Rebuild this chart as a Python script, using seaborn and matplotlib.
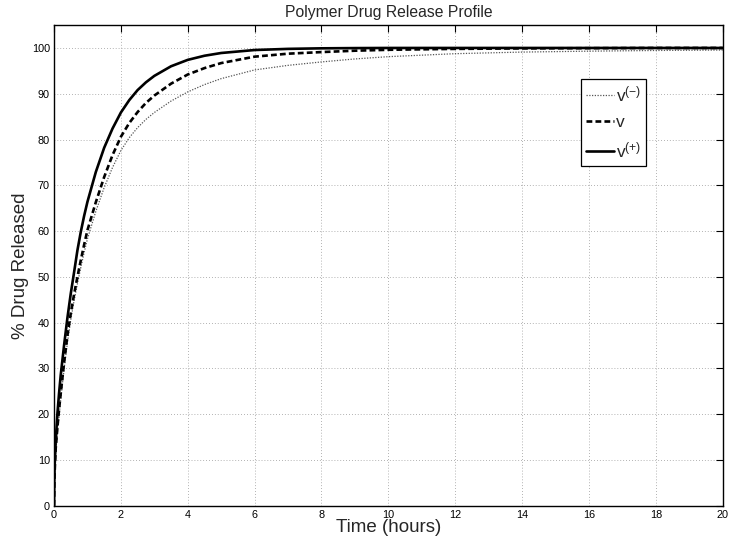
import numpy as np
import pandas as pd
import matplotlib
matplotlib.use("Agg")
import matplotlib.pyplot as plt
import seaborn as sns

# Release profiles (% of drug released vs. time in hours)
time_h = [0, 0.01, 0.02, 0.05, 0.1, 0.15, 0.2, 0.3, 0.4, 0.5, 0.6, 0.7, 0.8, 0.9,
          1.0, 1.25, 1.5, 1.75, 2.0, 2.25, 2.5, 2.75, 3.0, 3.5, 4.0, 4.5, 5, 6, 7,
          8, 9, 10, 12, 14, 16, 18, 20]
release_minus = [0, 4.5, 7, 11.5, 16, 19.5, 23.2, 29.8, 35.6, 40.6, 44.8, 48.5, 52, 55.3,
                 58.3, 64.3, 69.5, 73.9, 77.6, 80.4, 82.6, 84.4, 85.9, 88.4, 90.4, 92.0, 93.3,
                 95.2, 96.2, 96.95, 97.6, 98.1, 98.75, 99.1, 99.3, 99.45, 99.55]
release_mid = [0, 5, 7.5, 12.5, 17, 21, 24.5, 31.2, 37.2, 42, 46.2, 50, 53.6, 57,
               60.2, 66.3, 71.8, 76.6, 80.6, 83.6, 86.0, 88.0, 89.6, 92.2, 94.2, 95.6, 96.7,
               98.1, 98.75, 99.1, 99.4, 99.6, 99.8, 99.9, 99.95, 100, 100]
release_plus = [0, 6, 9, 14, 20, 24.5, 28.5, 35, 41, 46.3, 51, 55.8, 59.8, 63.3,
                66.4, 72.9, 78.2, 82.4, 85.9, 88.6, 90.8, 92.5, 93.9, 96.0, 97.4, 98.3, 98.9,
                99.55, 99.8, 99.92, 99.97, 100, 100, 100, 100, 100, 100]

series_labels = [r"v$^{(-)}$", "v", r"v$^{(+)}$"]
x_ticks = list(range(0, 21, 2))
y_ticks = list(range(0, 101, 10))

sns.set_theme(style="white")
plt.rcParams["font.family"] = ["Liberation Sans", "DejaVu Sans"]
plt.rcParams["mathtext.default"] = "regular"

n = len(time_h)
df = pd.DataFrame({
    "t": time_h * 3,
    "v": release_minus + release_mid + release_plus,
    "series": [series_labels[0]] * n + [series_labels[1]] * n + [series_labels[2]] * n,
})

fig = plt.figure(figsize=(7.3, 5.45), dpi=100)
ax = fig.add_axes([0.074, 0.072, 0.916, 0.882])

styles = {
    series_labels[0]: dict(linestyle=(0, (1, 1.2)), linewidth=0.9, color="#555555"),
    series_labels[1]: dict(linestyle=(0, (2.2, 1.2)), linewidth=1.9, color="black"),
    series_labels[2]: dict(linestyle="-", linewidth=1.9, color="black"),
}
for lab in series_labels:
    sns.lineplot(data=df[df["series"] == lab], x="t", y="v", ax=ax, label=lab,
                 **styles[lab])

ax.set_xlim(0, 20)
ax.set_ylim(0, 105)
ax.set_xticks(x_ticks)
ax.set_yticks(y_ticks)
ax.tick_params(direction="in", top=True, right=True, length=5, width=0.8,
               labelsize=7.8, colors="black", pad=3)
ax.grid(True, linestyle=(0, (1, 2.5)), color="#999999", linewidth=0.6)
for sp in ax.spines.values():
    sp.set_color("black")
    sp.set_linewidth(1.0)

ax.set_title("Polymer Drug Release Profile", fontsize=11.3, pad=6)
ax.set_xlabel("Time (hours)", fontsize=13.5, labelpad=-0.5)
ax.set_ylabel("% Drug Released", fontsize=13.5, labelpad=2)

leg = ax.legend(loc="upper left", bbox_to_anchor=(0.788, 0.887), fontsize=12.5,
                frameon=True, fancybox=False, edgecolor="black", framealpha=1,
                handlelength=1.6, handletextpad=0.1, borderpad=0.3,
                labelspacing=0.6, borderaxespad=0)
leg.get_frame().set_linewidth(0.9)

fig.savefig("out.png", dpi=100)
